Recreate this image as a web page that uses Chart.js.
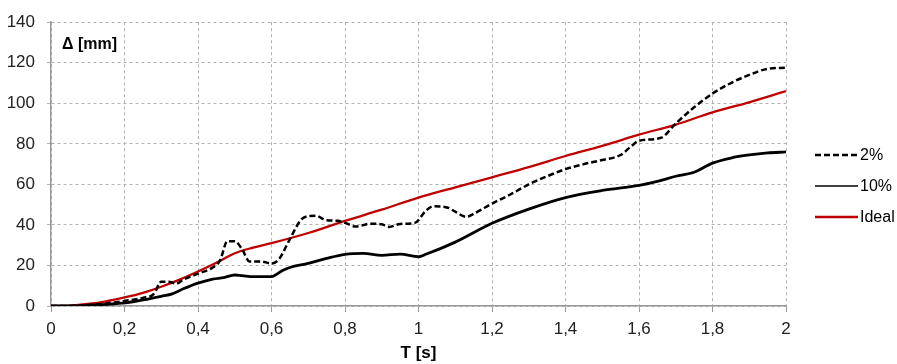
<!DOCTYPE html>
<html>
<head>
<meta charset="utf-8">
<script src="https://cdn.jsdelivr.net/npm/chart.js@4/dist/chart.umd.min.js"></script>
<style>
  html, body { margin: 0; padding: 0; background: #fff; }
  #wrap { width: 897px; height: 364px; }
</style>
</head>
<body>
<div id="wrap"><canvas id="chart" width="897" height="364"></canvas></div>
<script>
// series
const seriesNames = ['2%', '10%', 'Ideal'];

const t2 = [0, 0.05, 0.1, 0.15, 0.2, 0.25, 0.28, 0.3, 0.32, 0.34, 0.36, 0.4, 0.44, 0.46, 0.48, 0.5, 0.52, 0.54, 0.57, 0.6, 0.62, 0.65, 0.68, 0.7, 0.72, 0.75, 0.78, 0.8, 0.83, 0.87, 0.9, 0.92, 0.95, 0.99, 1.02, 1.04, 1.08, 1.1, 1.13, 1.15, 1.2, 1.25, 1.3, 1.35, 1.4, 1.45, 1.5, 1.55, 1.58, 1.6, 1.66, 1.7, 1.75, 1.8, 1.85, 1.9, 1.95, 2.0];
const d2 = [0, 0, 0.5, 1.2, 2.5, 4, 6, 12, 12, 11, 13, 16, 19, 22.5, 32, 32, 28, 22, 22, 21, 23, 33, 42.5, 44.3, 44.5, 42.3, 42, 41, 39.2, 40.6, 40.3, 39, 40.5, 41, 47, 49.2, 48.5, 46.5, 44, 45.5, 50.5, 55, 60, 64, 67.5, 70, 72, 74.5, 79, 81.5, 83, 90, 98, 104.8, 110, 114, 117, 117.5];

const t10 = [0, 0.05, 0.1, 0.15, 0.2, 0.25, 0.3, 0.33, 0.36, 0.4, 0.44, 0.47, 0.5, 0.52, 0.55, 0.6, 0.63, 0.65, 0.7, 0.75, 0.8, 0.85, 0.9, 0.95, 1.0, 1.02, 1.1, 1.2, 1.3, 1.4, 1.5, 1.6, 1.65, 1.7, 1.75, 1.8, 1.85, 1.9, 1.95, 2.0];
const d10 = [0, 0, 0.3, 0.8, 1.5, 3, 4.8, 6, 8.5, 11.3, 13.3, 14, 15.3, 15, 14.5, 14.5, 17.5, 19, 21, 23.5, 25.5, 26, 25, 25.6, 24.3, 25.5, 31.5, 40.8, 47.8, 53.5, 57, 59.5, 61.5, 64, 66, 70.5, 73, 74.5, 75.5, 76];

const tIdeal = [0, 0.05, 0.1, 0.15, 0.2, 0.25, 0.3, 0.35, 0.4, 0.45, 0.5, 0.55, 0.6, 0.7, 0.8, 0.9, 1.0, 1.1, 1.2, 1.3, 1.4, 1.5, 1.6, 1.7, 1.8, 1.9, 2.0];
const dIdeal = [0, 0.2, 1, 2.3, 4.2, 6.5, 9.5, 13, 17, 21.3, 26, 28.8, 31, 36, 42, 47.5, 53.5, 58.5, 63.5, 68.5, 74, 79, 84.5, 89.5, 95.5, 100.5, 106];

const xTicks = { min: 0, max: 2, step: 0.2 };
const yTicks = { min: 0, max: 140, step: 20 };

const FONT = "'Liberation Sans', Arial, sans-serif";

function zip(xs, ys) {
    return xs.map((x, i) => ({ x: x, y: ys[i] }));
}

function fmtComma(v) {
    const r = Math.round(v * 10) / 10;
    return Number.isInteger(r) ? String(r) : r.toFixed(1).replace('.', ',');
}

// legend on the right + "Δ [mm]" label inside the plot
const extras = {
    id: 'extras',
    afterDraw(chart) {
        const ctx = chart.ctx;
        const area = chart.chartArea;
        ctx.save();
        ctx.fillStyle = '#000';
        ctx.font = "bold 16px " + FONT;
        ctx.textBaseline = 'middle';
        ctx.textAlign = 'left';
        ctx.fillText('\u0394 [mm]', area.left + 11, area.top + 22);

        ctx.font = "16px " + FONT;
        chart.data.datasets.forEach((ds, i) => {
            const y = 155 + i * 31;
            ctx.beginPath();
            ctx.setLineDash(ds.borderDash || []);
            ctx.strokeStyle = ds.borderColor;
            ctx.lineWidth = ds.legendWidth;
            ctx.moveTo(area.right + 29, y);
            ctx.lineTo(area.right + 72, y);
            ctx.stroke();
            ctx.setLineDash([]);
            ctx.fillText(ds.label, area.right + 74, y + 1);
        });
        ctx.restore();
    }
};

Chart.defaults.font.family = FONT;
Chart.defaults.font.size = 17;
Chart.defaults.color = '#222';

const ctx = document.getElementById('chart').getContext('2d');
new Chart(ctx, {
    type: 'line',
    data: {
        datasets: [
            {
                label: seriesNames[0],
                data: zip(t2, d2),
                borderColor: '#000',
                borderWidth: 2.5,
                borderDash: [6, 3],
                legendWidth: 2.4
            },
            {
                label: seriesNames[1],
                data: zip(t10, d10),
                borderColor: '#000',
                borderWidth: 2.8,
                legendWidth: 1.5
            },
            {
                label: seriesNames[2],
                data: zip(tIdeal, dIdeal),
                borderColor: '#c00000',
                borderWidth: 2.3,
                legendWidth: 2.3
            }
        ]
    },
    options: {
        responsive: false,
        animation: false,
        elements: {
            point: { radius: 0 },
            line: { cubicInterpolationMode: 'monotone', fill: false }
        },
        layout: { padding: { left: 0, top: 22, right: 111, bottom: 0 } },
        plugins: {
            legend: { display: false },
            tooltip: { enabled: false }
        },
        scales: {
            x: {
                type: 'linear',
                min: xTicks.min,
                max: xTicks.max,
                afterFit: s => { s.height = 58; },
                ticks: {
                    stepSize: xTicks.step,
                    padding: 7,
                    maxRotation: 0,
                    callback: v => fmtComma(v)
                },
                grid: {
                    color: '#b0b0b0',
                    lineWidth: 1,
                    tickLength: 6,
                    tickColor: '#999',
                    tickBorderDash: []
                },
                border: { display: true, color: '#999', width: 1.5, dash: [3, 3] },
                title: {
                    display: true,
                    text: 'T [s]',
                    color: '#000',
                    font: { size: 17, weight: 'bold' },
                    padding: { top: 0, bottom: 0 }
                }
            },
            y: {
                type: 'linear',
                min: yTicks.min,
                max: yTicks.max,
                afterFit: s => { s.width = 51; },
                ticks: {
                    stepSize: yTicks.step,
                    padding: 12
                },
                grid: {
                    color: '#b0b0b0',
                    lineWidth: 1,
                    tickLength: 4,
                    tickColor: '#b0b0b0',
                    tickBorderDash: [3, 3]
                },
                border: { display: true, color: '#999', width: 1.5, dash: [3, 3] }
            }
        }
    },
    plugins: [extras]
});
</script>
</body>
</html>
